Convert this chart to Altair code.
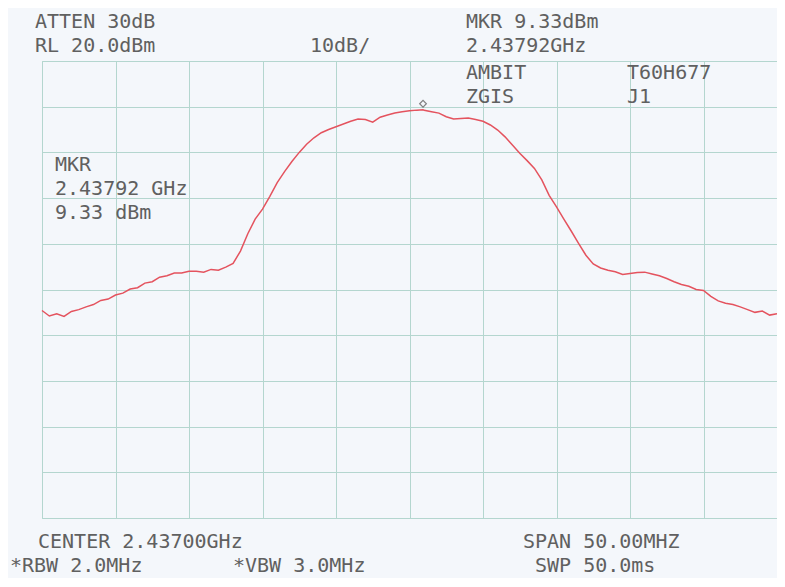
import altair as alt
import pandas as pd

# ---------------- data ----------------
FREQ_START_MHZ = 2412.0
FREQ_STEP_MHZ = 0.5
level_dbm = [
    -34.6, -35.8, -35.3, -35.9, -34.8, -34.4, -33.8, -33.3, -32.4, -32.1,
    -31.2, -30.8, -29.9, -29.6, -28.6, -28.3, -27.3, -27.0, -26.4, -26.4,
    -26.0, -26.0, -26.2, -25.6, -25.8, -25.1, -24.3, -21.6, -17.8, -14.6,
    -12.4, -9.6, -6.6, -4.2, -2.0, 0.0, 1.8, 3.2, 4.3, 5.0,
    5.6, 6.2, 6.8, 7.3, 7.2, 6.6, 7.7, 8.2, 8.6, 8.9,
    9.1, 9.25, 9.2, 8.9, 8.6, 7.8, 7.3, 7.4, 7.5, 7.2,
    6.8, 6.0, 4.9, 3.4, 1.6, -0.2, -1.8, -3.5, -6.0, -9.4,
    -11.9, -14.6, -17.2, -19.9, -22.5, -24.4, -25.3, -25.8, -26.1, -26.7,
    -26.5, -26.3, -26.2, -26.6, -27.0, -27.6, -28.3, -28.9, -29.3, -30.0,
    -30.2, -31.5, -32.5, -33.0, -33.3, -33.8, -34.4, -35.0, -34.7, -35.6,
    -35.3,
]
freq_mhz = [FREQ_START_MHZ + FREQ_STEP_MHZ * i for i in range(len(level_dbm))]

marker_freq_mhz = [2437.92]
marker_level_dbm = [9.33]

x_grid_mhz = [2412, 2417, 2422, 2427, 2432, 2437, 2442, 2447, 2452, 2457, 2462]
y_grid_dbm = [-80, -70, -60, -50, -40, -30, -20, -10, 0, 10, 20]

labels = [
    "ATTEN 30dB", "RL 20.0dBm", "10dB/", "MKR 9.33dBm", "2.43792GHz",
    "AMBIT", "T60H677", "ZGIS", "J1",
    "MKR", "2.43792 GHz", "9.33 dBm",
    "CENTER 2.43700GHz", "SPAN 50.00MHZ",
    "*RBW 2.0MHz", "*VBW 3.0MHz", "SWP 50.0ms",
]

# ---------------- layout / style ----------------
PLOT_LEFT, PLOT_TOP = 42, 61  # page coords of plot origin
label_pos_page = [
    (35, 28), (35, 52), (310, 52), (466, 28), (466, 52),
    (466, 79), (627, 79), (466, 103), (627, 103),
    (55, 171), (55, 195), (55, 219),
    (38, 548), (523, 548),
    (10, 572), (233, 572), (535, 572),
]
GRID = "#b4d6cf"
TRACE = "#e4535e"
TEXT = "#606060"
FONT = "DejaVu Sans Mono"

trace_df = pd.DataFrame({"freq": freq_mhz + marker_freq_mhz,
                         "level": level_dbm + marker_level_dbm}).sort_values("freq")
marker_df = pd.DataFrame({"freq": marker_freq_mhz, "level": marker_level_dbm})

x_scale = alt.Scale(domain=[2412, 2462], nice=False, zero=False)
y_scale = alt.Scale(domain=[-80, 20], nice=False, zero=False)
x_axis = alt.Axis(values=x_grid_mhz, labels=False, ticks=False, domain=False,
                  title=None, grid=True, gridColor=GRID, gridWidth=1, gridOpacity=1)
y_axis = alt.Axis(values=y_grid_dbm, labels=False, ticks=False, domain=False,
                  title=None, grid=True, gridColor=GRID, gridWidth=1, gridOpacity=1)

trace = alt.Chart(trace_df).mark_line(color=TRACE, strokeWidth=1.5).encode(
    x=alt.X("freq:Q", scale=x_scale, axis=x_axis),
    y=alt.Y("level:Q", scale=y_scale, axis=y_axis),
    order="freq:Q",
)

marker = alt.Chart(marker_df).mark_point(
    shape="diamond", filled=False, size=45, color="#505050", strokeWidth=1.2
).encode(
    x=alt.X("freq:Q", scale=x_scale),
    y=alt.Y("level:Q", scale=y_scale),
    yOffset=alt.value(-6),
)

text_layers = []
for lab, (px, py) in zip(labels, label_pos_page):
    text_layers.append(
        alt.Chart(pd.DataFrame({"t": [lab]})).mark_text(
            font=FONT, fontSize=20, color=TEXT, align="left", baseline="alphabetic"
        ).encode(
            x=alt.value(px - PLOT_LEFT),
            y=alt.value(py - PLOT_TOP),
            text="t:N",
        )
    )

chart = alt.layer(trace, marker, *text_layers).properties(
    width=735, height=457,
    autosize=alt.AutoSizeParams(type="none"),
    padding={"left": 34, "top": 53, "right": 0, "bottom": 60},
    background="#f4f7fb",
).configure_view(stroke=GRID, strokeWidth=1)

chart.save("out.html", embed_options={"renderer": "svg", "actions": False})
